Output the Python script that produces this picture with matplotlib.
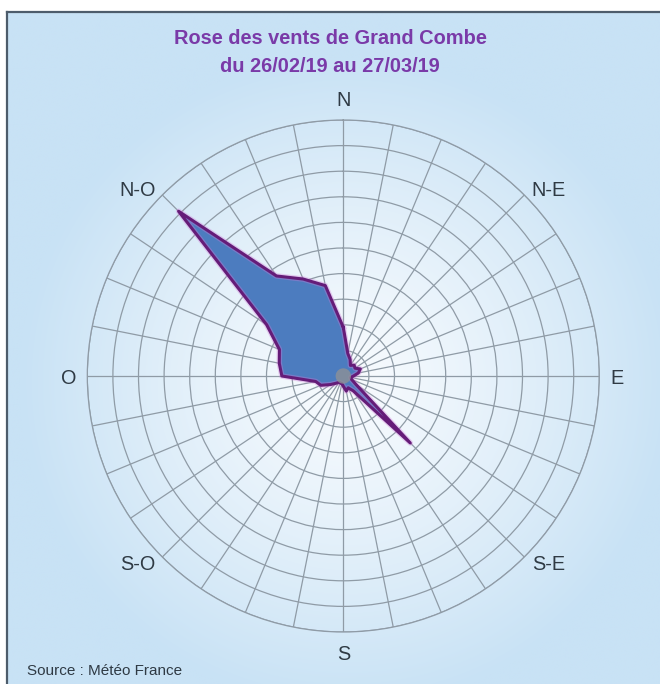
import numpy as np
import matplotlib
matplotlib.use("Agg")
import matplotlib.pyplot as plt

# Data: 32 wind directions (clockwise from North), frequency in ring units
directions = ["N", "NbE", "NNE", "NEbN", "NE", "NEbE", "ENE", "EbN",
              "E", "EbS", "ESE", "SEbE", "SE", "SEbS", "SSE", "SbE",
              "S", "SbW", "SSW", "SWbS", "SW", "SWbW", "WSW", "WbS",
              "W", "WbN", "WNW", "NWbW", "NW", "NWbN", "NNW", "NbW"]
values = [1.9, 0.9, 0.7, 0.5, 0.6, 0.55, 0.72, 0.6,
          0.4, 0.3, 0.35, 0.6, 3.7, 0.7, 0.5, 0.6,
          0.4, 0.3, 0.3, 0.3, 0.4, 0.6, 0.95, 1.1,
          2.4, 2.55, 2.7, 3.6, 9.1, 4.7, 4.1, 3.6]
compass_labels = ["N", "N-E", "E", "S-E", "S", "S-O", "O", "N-O"]
ring_values = [1, 2, 3, 4, 5, 6, 7, 8, 9, 10]

title_lines = ["Rose des vents de Grand Combe", "du 26/02/19 au 27/03/19"]
source_text = "Source : Météo France"

plt.rcParams['font.family'] = ['Liberation Sans', 'DejaVu Sans']

W, H = 660, 684
fig = plt.figure(figsize=(W / 100, H / 100), dpi=100)
fig.patch.set_facecolor("white")

# Background with gradient
bg = fig.add_axes([0, 0, 1, 1])
bg.set_xlim(0, W)
bg.set_ylim(H, 0)
bg.axis("off")
yy, xx = np.mgrid[0:H, 0:W]
cx, cy = 343.3, 376.0
d = np.sqrt((xx - cx) ** 2 + (yy - cy) ** 2) / 330.0
d = np.clip(d, 0, 1)
c_in = np.array([248, 251, 254]) / 255.0
c_out = np.array([200, 226, 245]) / 255.0
img = c_in[None, None, :] * (1 - d[..., None] ** 1.2) + c_out[None, None, :] * (d[..., None] ** 1.2)
bg.imshow(img, extent=(7, W, H, 12), zorder=0, aspect="auto")
bg.plot([7, 7], [12, H], color="#4d5c6b", lw=1.6, zorder=2)
bg.plot([7, W], [12, 12], color="#4d5c6b", lw=1.6, zorder=2)

# Title
bg.text(330, 38, title_lines[0], ha="center", va="center", fontsize=14.4,
        fontweight="bold", color="#7a3aa8", zorder=3)
bg.text(330, 67, title_lines[1], ha="center", va="center", fontsize=14.4,
        fontweight="bold", color="#7a3aa8", zorder=3)
bg.text(27, 671, source_text, ha="left", va="center", fontsize=11,
        color="#2f3a44", zorder=3)

# Compass labels (offsets from the rose centre, in pixels)
label_dx = [0, 205, 274, 205, 0, -206, -275, -206]
label_dy = [-276, -186, 2, 189, 279, 189, 2, -186]
for lab, ldx, ldy in zip(compass_labels, label_dx, label_dy):
    bg.text(cx + ldx, cy + ldy, lab, ha="center", va="center",
            fontsize=14.3, color="#2f3a44", zorder=3)

# Polar chart
R = 256.0
ax = fig.add_axes([(cx - R) / W, (H - cy - R) / H, 2 * R / W, 2 * R / H],
                  projection="polar")
ax.set_facecolor("none")
ax.set_theta_zero_location("N")
ax.set_theta_direction(-1)
ax.set_ylim(0, ring_values[-1])

n = len(values)
theta = np.deg2rad(np.arange(n) * 360.0 / n)
ax.set_thetagrids(np.arange(n) * 360.0 / n, labels=[""] * n)
ax.set_rgrids(ring_values, labels=[""] * len(ring_values))
ax.grid(True, color="#8f9ba6", lw=0.9)
ax.spines["polar"].set_color("#8f9ba6")
ax.spines["polar"].set_linewidth(0.9)
ax.tick_params(length=0)

tc = np.append(theta, theta[0])
vc = np.append(values, values[0])
ax.fill(tc, vc, color="#4c7cbf", zorder=3)
ax.plot(tc, vc, color="#d07ad8", lw=4.0, alpha=0.35, zorder=3.5)
ax.plot(tc, vc, color="#651c78", lw=2.2, zorder=4)

# calm centre
circ_t = np.linspace(0, 2 * np.pi, 60)
ax.fill(circ_t, np.full_like(circ_t, 0.3), color="#8e9196", alpha=0.8, zorder=5, lw=0)

fig.savefig("out.png", dpi=100)
